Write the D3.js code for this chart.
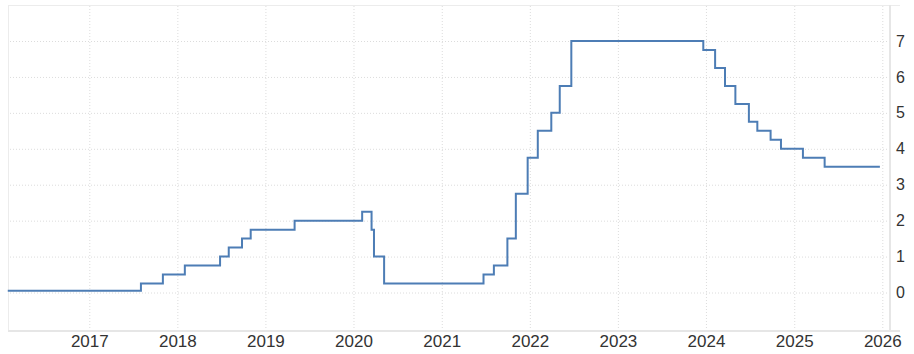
<!DOCTYPE html>
<html>
<head>
<meta charset="utf-8">
<script src="https://cdn.jsdelivr.net/npm/d3@7"></script>
<style>
  body { margin: 0; background: #fff; }
  svg { display: block; font-family: Arial, "Liberation Sans", sans-serif; }
</style>
</head>
<body>
<script>
// policy rate changes (date the new rate took effect)
const dates = [
  "2016-01-29", "2017-08-03", "2017-11-02", "2018-02-01", "2018-06-27",
  "2018-08-02", "2018-09-26", "2018-11-01", "2019-05-02", "2020-02-06",
  "2020-03-16", "2020-03-26", "2020-05-07", "2021-06-23", "2021-08-05",
  "2021-09-30", "2021-11-04", "2021-12-23", "2022-02-03", "2022-03-31",
  "2022-05-05", "2022-06-22", "2023-12-21", "2024-02-08", "2024-03-20",
  "2024-05-02", "2024-06-27", "2024-08-01", "2024-09-25", "2024-11-07",
  "2025-02-06", "2025-05-07", "2025-12-22"
];
const rates = [
  0.05, 0.25, 0.5, 0.75, 1.0,
  1.25, 1.5, 1.75, 2.0, 2.25,
  1.75, 1.0, 0.25, 0.5, 0.75,
  1.5, 2.75, 3.75, 4.5, 5.0,
  5.75, 7.0, 6.75, 6.25, 5.75,
  5.25, 4.75, 4.5, 4.25, 4.0,
  3.75, 3.5, 3.5
];
const yTicks = [0, 1, 2, 3, 4, 5, 6, 7];
const xTicks = ["2017", "2018", "2019", "2020", "2021", "2022", "2023", "2024", "2025", "2026"];

const w = 914;
const h = 354;
const plot = { left: 8, right: 890, top: 5, bottom: 331 };

const parse = d3.timeParse("%Y-%m-%d");
const dataset = dates.map((d, i) => [parse(d), rates[i]]);

const svg = d3.select("body").append("svg").attr("width", w).attr("height", h);

const xScale = d3
  .scaleTime()
  .domain([new Date(2017, 0, 1), new Date(2026, 0, 1)])
  .range([89.3, 882.3]);

const yScale = d3.scaleLinear().domain([0, 7]).range([292.5, 41]);

// grid
const xGrid = d3
  .axisBottom(xScale)
  .tickValues(xTicks.map((t) => new Date(+t, 0, 1)))
  .tickSize(-(plot.bottom - plot.top))
  .tickFormat("");
svg
  .append("g")
  .attr("class", "grid")
  .attr("transform", "translate(0," + plot.bottom + ")")
  .call(xGrid);

const yGrid = d3
  .axisRight(yScale)
  .tickValues(yTicks)
  .tickSize(-(plot.right - plot.left))
  .tickFormat("");
svg
  .append("g")
  .attr("class", "grid")
  .attr("transform", "translate(" + plot.right + ",0)")
  .call(yGrid);

svg.selectAll(".grid .domain").remove();
svg
  .selectAll(".grid line")
  .attr("stroke", "#dcdcdc")
  .attr("stroke-dasharray", "1,2");

// top grid line
svg
  .append("line")
  .attr("x1", plot.left)
  .attr("x2", 900)
  .attr("y1", plot.top + 0.5)
  .attr("y2", plot.top + 0.5)
  .attr("stroke", "#ececec");

// frame lines
svg
  .append("line")
  .attr("x1", plot.left + 0.5)
  .attr("x2", plot.left + 0.5)
  .attr("y1", plot.top)
  .attr("y2", plot.bottom)
  .attr("stroke", "#ececec");
svg
  .append("line")
  .attr("x1", plot.right)
  .attr("x2", plot.right)
  .attr("y1", plot.top)
  .attr("y2", plot.bottom)
  .attr("stroke", "#e6e6e6")
  .attr("stroke-width", 2);
svg
  .append("line")
  .attr("x1", plot.left)
  .attr("x2", 900)
  .attr("y1", plot.bottom)
  .attr("y2", plot.bottom)
  .attr("stroke", "#e6e6e6")
  .attr("stroke-width", 2);

// axes labels
const xAxis = d3
  .axisBottom(xScale)
  .tickValues(xTicks.map((t) => new Date(+t, 0, 1)))
  .tickSize(0)
  .tickPadding(4)
  .tickFormat(d3.timeFormat("%Y"));
svg
  .append("g")
  .attr("id", "x-axis")
  .attr("transform", "translate(0," + plot.bottom + ")")
  .call(xAxis);

const yAxis = d3
  .axisRight(yScale)
  .tickValues(yTicks)
  .tickSize(0)
  .tickPadding(6)
  .tickFormat(d3.format("d"));
svg
  .append("g")
  .attr("id", "y-axis")
  .attr("transform", "translate(" + plot.right + ",0)")
  .call(yAxis);

svg.selectAll("#x-axis .domain, #y-axis .domain").remove();
svg
  .selectAll("#x-axis text, #y-axis text")
  .attr("fill", "#333")
  .style("font-family", "Arial, 'Liberation Sans', sans-serif");
svg.selectAll("#x-axis text").style("font-size", "17px");
svg.selectAll("#y-axis text").style("font-size", "16px");

// the rate line
const line = d3
  .line()
  .x((d) => xScale(d[0]))
  .y((d) => yScale(d[1]))
  .curve(d3.curveStepAfter);

svg
  .append("path")
  .datum(dataset)
  .attr("d", line)
  .attr("fill", "none")
  .attr("stroke", "#4d7db5")
  .attr("stroke-width", 2);
</script>
</body>
</html>
